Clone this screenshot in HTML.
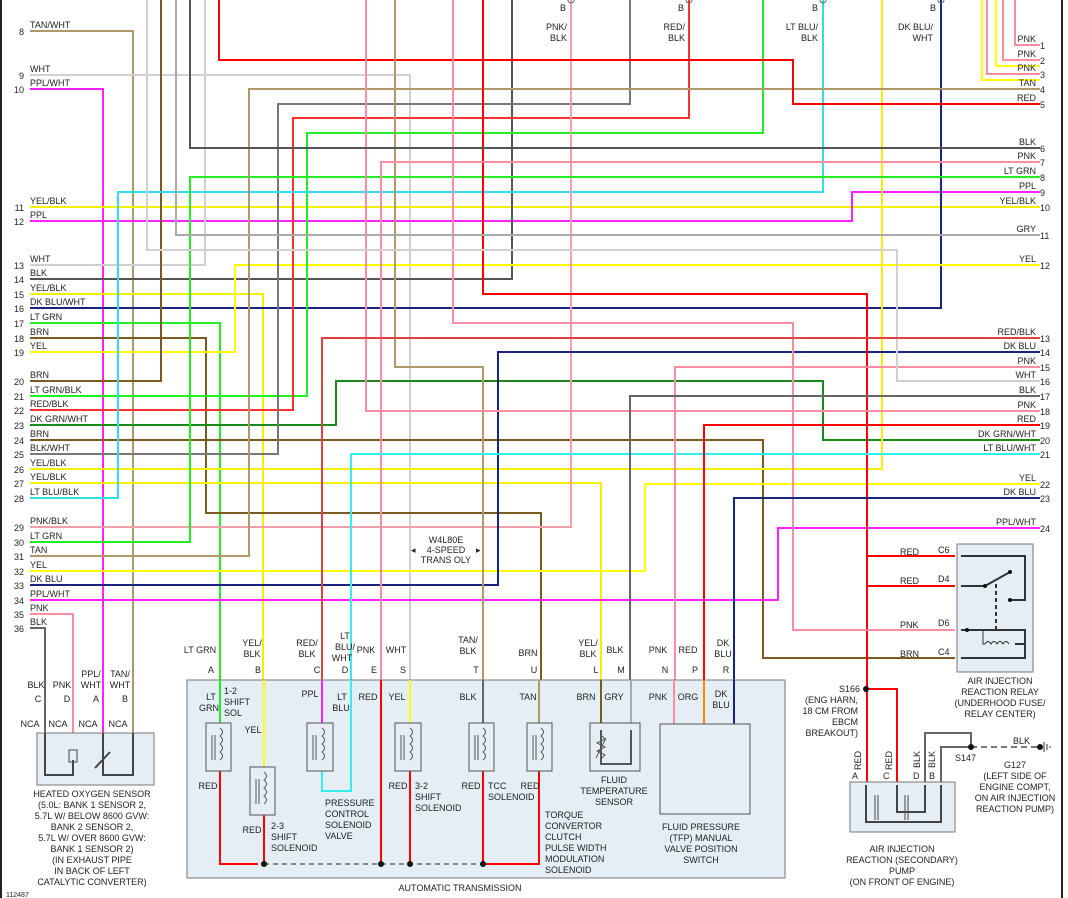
<!DOCTYPE html>
<html><head><meta charset="utf-8"><style>
html,body{margin:0;padding:0;background:#fff;}
svg{display:block;font-family:"Liberation Sans",sans-serif;font-size:9px;}
polyline,line{fill:none;stroke-width:2;}
text{fill:#222;}
</style></head><body>
<svg width="1068" height="898" viewBox="0 0 1068 898" xmlns="http://www.w3.org/2000/svg">
<rect x="0" y="0" width="2" height="898" fill="#222"/>
<rect x="1061" y="0" width="2" height="898" fill="#222"/>

<!-- top right pink bundle with yellow -->
<polyline points="982,0 982,80 1040,80" stroke="#ffff00" stroke-width="6"/>
<polyline points="996,0 996,66 1040,66" stroke="#ffff00" stroke-width="5"/>
<polyline points="987,0 987,74 1040,74" stroke="#ff8da1"/>
<polyline points="1003,0 1003,60 1040,60" stroke="#ff8da1"/>
<polyline points="1015,0 1015,45 1040,45" stroke="#ff8da1"/>

<!-- wires -->
<g>
<polyline points="30,31 133,31 133,733" stroke="#b0986a"/>
<polyline points="30,75 410,75 410,680" stroke="#d0d0d0"/>
<polyline points="30,89 103,89 103,733" stroke="#ff22ff"/>
<polyline points="30,207 1040,207" stroke="#f0f000"/>
<polyline points="30,221 852,221 852,192 1040,192" stroke="#ff22ff"/>
<polyline points="30,265 205,265 205,0" stroke="#d0d0d0"/>
<polyline points="30,279 512,279 512,0" stroke="#555"/>
<polyline points="30,294 263,294 263,680" stroke="#f0f000"/>
<polyline points="30,308 941,308 941,0" stroke="#1a237e"/>
<polyline points="30,323 220,323 220,680" stroke="#22ee22"/>
<polyline points="30,338 206,338 206,513 541,513 541,680" stroke="#7a5a1e"/>
<polyline points="30,352 235,352 235,265 1040,265" stroke="#ffff00"/>
<polyline points="30,381 161,381 161,0" stroke="#7a5a1e"/>
<polyline points="30,396 307,396 307,133 763,133 763,0" stroke="#22ee22"/>
<polyline points="30,410 293,410 293,118 689,118 689,0" stroke="#ff3030"/>
<polyline points="30,425 336,425 336,381 823,381 823,440 1040,440" stroke="#1a8a1a"/>
<polyline points="30,440 763,440 763,658 955,658" stroke="#7a5a1e"/>
<polyline points="30,454 278,454 278,104 630,104 630,0" stroke="#777"/>
<polyline points="30,469 882,469 882,0" stroke="#f0f000"/>
<polyline points="30,483 601,483 601,680" stroke="#f0f000"/>
<polyline points="30,498 118,498 118,192 823,192 823,0" stroke="#33dde8"/>
<polyline points="30,527 571,527 571,0" stroke="#f0a0aa"/>
<polyline points="30,542 190,542 190,177 1040,177" stroke="#22ee22"/>
<polyline points="30,556 249,556 249,89 1040,89" stroke="#b0986a"/>
<polyline points="30,571 645,571 645,484 1040,484" stroke="#ffff00"/>
<polyline points="30,585 498,585 498,352 1040,352" stroke="#1a237e"/>
<polyline points="30,600 778,600 778,528 1040,528" stroke="#ff22ff"/>
<polyline points="30,614 73,614 73,733" stroke="#ff8da1"/>
<polyline points="30,628 45,628 45,733" stroke="#666"/>

<polyline points="219,0 219,60 793,60 793,104 1040,104" stroke="#ff0000"/>
<polyline points="483,0 483,294 867,294 867,782" stroke="#ff0000"/>
<polyline points="867,556 955,556" stroke="#ff0000"/>
<polyline points="867,586 955,586" stroke="#ff0000"/>
<polyline points="867,689 897,689 897,782" stroke="#ff0000"/>
<polyline points="395,0 395,367 483,367 483,680" stroke="#b0986a"/>
<polyline points="366,0 366,411 1040,411" stroke="#ff8da1"/>
<polyline points="381,680 381,162 1040,162" stroke="#ff8da1"/>
<polyline points="453,0 453,323 793,323 793,630 955,630" stroke="#ff8da1"/>
<polyline points="351,680 351,454 1040,454" stroke="#33eeee"/>
<polyline points="675,680 675,367 1040,367" stroke="#ff8da1"/>
<polyline points="630,680 630,396 1040,396" stroke="#666"/>
<polyline points="704,680 704,425 1040,425" stroke="#ff0000"/>
<polyline points="734,680 734,498 1040,498" stroke="#1a237e"/>
<polyline points="147,0 147,250 897,250 897,381 1040,381" stroke="#d0d0d0"/>
<polyline points="176,0 176,235 1040,235" stroke="#aaa"/>
<polyline points="190,0 190,148 1040,148" stroke="#555"/>
<polyline points="322,680 322,338 1040,338" stroke="#e04040"/>
</g>

<!-- top pin circles -->
<g fill="none" stroke="#666" stroke-width="1">
<circle cx="571" cy="0" r="3"/><circle cx="689" cy="0" r="3"/><circle cx="823" cy="0" r="3"/><circle cx="941" cy="0" r="3"/>
</g>
<g text-anchor="end">
<text x="566" y="11">B</text><text x="684" y="11">B</text><text x="818" y="11">B</text><text x="936" y="11">B</text>
<text x="567" y="30">PNK/</text><text x="567" y="41">BLK</text>
<text x="685" y="30">RED/</text><text x="685" y="41">BLK</text>
<text x="818" y="30">LT BLU/</text><text x="818" y="41">BLK</text>
<text x="933" y="30">DK BLU/</text><text x="933" y="41">WHT</text>
</g>

<!-- left labels -->
<g>
<text x="30" y="28">TAN/WHT</text><text x="30" y="72">WHT</text><text x="30" y="86">PPL/WHT</text>
<text x="30" y="204">YEL/BLK</text><text x="30" y="218">PPL</text>
<text x="30" y="262">WHT</text><text x="30" y="276">BLK</text><text x="30" y="291">YEL/BLK</text>
<text x="30" y="305">DK BLU/WHT</text><text x="30" y="320">LT GRN</text><text x="30" y="335">BRN</text>
<text x="30" y="349">YEL</text><text x="30" y="378">BRN</text><text x="30" y="393">LT GRN/BLK</text>
<text x="30" y="407">RED/BLK</text><text x="30" y="422">DK GRN/WHT</text><text x="30" y="437">BRN</text>
<text x="30" y="451">BLK/WHT</text><text x="30" y="466">YEL/BLK</text><text x="30" y="480">YEL/BLK</text>
<text x="30" y="495">LT BLU/BLK</text><text x="30" y="524">PNK/BLK</text><text x="30" y="539">LT GRN</text>
<text x="30" y="553">TAN</text><text x="30" y="568">YEL</text><text x="30" y="582">DK BLU</text>
<text x="30" y="597">PPL/WHT</text><text x="30" y="611">PNK</text><text x="30" y="625">BLK</text>
</g>
<g text-anchor="end">
<text x="24" y="35">8</text><text x="24" y="79">9</text><text x="24" y="93">10</text>
<text x="24" y="211">11</text><text x="24" y="225">12</text><text x="24" y="269">13</text>
<text x="24" y="283">14</text><text x="24" y="298">15</text><text x="24" y="312">16</text>
<text x="24" y="327">17</text><text x="24" y="342">18</text><text x="24" y="356">19</text>
<text x="24" y="385">20</text><text x="24" y="400">21</text><text x="24" y="414">22</text>
<text x="24" y="429">23</text><text x="24" y="444">24</text><text x="24" y="458">25</text>
<text x="24" y="473">26</text><text x="24" y="487">27</text><text x="24" y="502">28</text>
<text x="24" y="531">29</text><text x="24" y="546">30</text><text x="24" y="560">31</text>
<text x="24" y="575">32</text><text x="24" y="589">33</text><text x="24" y="604">34</text>
<text x="24" y="618">35</text><text x="24" y="632">36</text>
</g>

<!-- right labels -->
<g text-anchor="end">
<text x="1036" y="42">PNK</text><text x="1036" y="57">PNK</text><text x="1036" y="71">PNK</text>
<text x="1036" y="86">TAN</text><text x="1036" y="101">RED</text><text x="1036" y="145">BLK</text>
<text x="1036" y="159">PNK</text><text x="1036" y="174">LT GRN</text><text x="1036" y="189">PPL</text>
<text x="1036" y="204">YEL/BLK</text><text x="1036" y="232">GRY</text><text x="1036" y="262">YEL</text>
<text x="1036" y="335">RED/BLK</text><text x="1036" y="349">DK BLU</text><text x="1036" y="364">PNK</text>
<text x="1036" y="378">WHT</text><text x="1036" y="393">BLK</text><text x="1036" y="408">PNK</text>
<text x="1036" y="422">RED</text><text x="1036" y="437">DK GRN/WHT</text><text x="1036" y="451">LT BLU/WHT</text>
<text x="1036" y="481">YEL</text><text x="1036" y="495">DK BLU</text><text x="1036" y="525">PPL/WHT</text>
</g>
<g>
<text x="1040" y="49">1</text><text x="1040" y="64">2</text><text x="1040" y="78">3</text>
<text x="1040" y="93">4</text><text x="1040" y="108">5</text><text x="1040" y="152">6</text>
<text x="1040" y="166">7</text><text x="1040" y="181">8</text><text x="1040" y="196">9</text>
<text x="1040" y="211">10</text><text x="1040" y="239">11</text><text x="1040" y="269">12</text>
<text x="1040" y="342">13</text><text x="1040" y="356">14</text><text x="1040" y="371">15</text>
<text x="1040" y="385">16</text><text x="1040" y="400">17</text><text x="1040" y="415">18</text>
<text x="1040" y="429">19</text><text x="1040" y="444">20</text><text x="1040" y="458">21</text>
<text x="1040" y="488">22</text><text x="1040" y="502">23</text><text x="1040" y="532">24</text>
</g>

<!-- W4L80E note -->
<g text-anchor="middle"><text x="446" y="543">W4L80E</text><text x="446" y="553">4-SPEED</text><text x="446" y="563">TRANS OLY</text></g>
<text x="411" y="553">◂</text><text x="476" y="553">▸</text>

<!-- heated oxygen sensor -->
<rect x="37" y="733" width="117" height="52" fill="#e4eef4" stroke="#777"/>
<g stroke="#444" stroke-width="1" fill="none">
<polyline points="45,733 45,775 73,775 73,760"/><polyline points="103,733 103,775 133,775 133,733"/>
<rect x="69" y="750" width="8" height="12"/><line x1="95" y1="768" x2="110" y2="752"/>
</g>
<g text-anchor="middle">
<text x="36" y="688">BLK</text><text x="62" y="688">PNK</text><text x="91" y="677">PPL/</text><text x="91" y="688">WHT</text>
<text x="120" y="677">TAN/</text><text x="120" y="688">WHT</text>
<text x="38" y="702">C</text><text x="67" y="702">D</text><text x="96" y="702">A</text><text x="125" y="702">B</text>
<text x="30" y="727">NCA</text><text x="58" y="727">NCA</text><text x="88" y="727">NCA</text><text x="118" y="727">NCA</text>
<text x="92" y="797">HEATED OXYGEN SENSOR</text><text x="92" y="808">(5.0L: BANK 1 SENSOR 2,</text>
<text x="92" y="819">5.7L W/ BELOW 8600 GVW:</text><text x="92" y="830">BANK 2 SENSOR 2,</text>
<text x="92" y="841">5.7L W/ OVER 8600 GVW:</text><text x="92" y="852">BANK 1 SENSOR 2)</text>
<text x="92" y="863">(IN EXHAUST PIPE</text><text x="92" y="874">IN BACK OF LEFT</text><text x="92" y="885">CATALYTIC CONVERTER)</text>
</g>
<text x="6" y="897" font-size="7">112487</text>

<!-- transmission box -->
<rect x="187" y="680" width="598" height="198" fill="#e4eef4" stroke="#777"/>
<g>
<polyline points="220,680 220,723" stroke="#22ee22"/>
<polyline points="264,680 264,767" stroke="#ffff00"/>
<polyline points="322,680 322,723" stroke="#ff22ff"/>
<polyline points="351,680 351,791 322,791 322,771" stroke="#33eeee"/>
<polyline points="410,680 410,723" stroke="#ffff00"/>
<polyline points="483,680 483,723" stroke="#666"/>
<polyline points="539,680 539,723" stroke="#b0986a"/>
<polyline points="601,680 601,723" stroke="#7a5a1e"/>
<polyline points="631,680 631,723" stroke="#aaa"/>
<polyline points="674,680 674,724" stroke="#ff8da1"/>
<polyline points="704,680 704,724" stroke="#ff8800"/>
<polyline points="734,680 734,724" stroke="#1a237e"/>
<polyline points="381,680 381,864" stroke="#ff0000"/>
<polyline points="220,771 220,864 258,864" stroke="#ff0000"/>
<polyline points="264,815 264,864" stroke="#ff0000"/>
<polyline points="410,771 410,864" stroke="#ff0000"/>
<polyline points="483,771 483,864 539,864 539,771" stroke="#ff0000"/>
<line x1="264" y1="864" x2="483" y2="864" stroke="#888" stroke-width="1" stroke-dasharray="5,4"/>
</g>
<g fill="#111"><circle cx="264" cy="864" r="3"/><circle cx="381" cy="864" r="3"/><circle cx="410" cy="864" r="3"/><circle cx="483" cy="864" r="3"/></g>
<g fill="none" stroke="#555" stroke-width="1">
<rect x="206" y="723" width="25" height="48"/><rect x="250" y="767" width="25" height="48"/>
<rect x="307" y="723" width="26" height="48"/><rect x="395" y="723" width="26" height="48"/>
<rect x="469" y="723" width="25" height="48"/><rect x="527" y="723" width="25" height="48"/>
<rect x="590" y="723" width="50" height="48"/><rect x="660" y="724" width="90" height="90"/>
<polyline points="601,730 601,764 631,764 631,730"/>
<path d="M220,728 q5,4 0,8 q5,4 0,8 q5,4 0,8 q5,4 0,8 M264,772 q5,4 0,8 q5,4 0,8 q5,4 0,8 q5,4 0,8 M322,728 q5,4 0,8 q5,4 0,8 q5,4 0,8 q5,4 0,8 M410,728 q5,4 0,8 q5,4 0,8 q5,4 0,8 q5,4 0,8 M483,728 q5,4 0,8 q5,4 0,8 q5,4 0,8 q5,4 0,8 M541,728 q5,4 0,8 q5,4 0,8 q5,4 0,8 q5,4 0,8"/>
<path d="M212,735 v25 M215,735 v25 M256,779 v25 M259,779 v25 M313,735 v25 M316,735 v25 M401,735 v25 M404,735 v25 M475,735 v25 M478,735 v25 M533,735 v25 M536,735 v25"/>
<path d="M601,735 l4,4 -8,4 8,4 -8,4 8,4 -4,4 M596,758 l10,-20"/>
</g>
<g text-anchor="middle">
<text x="200" y="653">LT GRN</text><text x="252" y="646">YEL/</text><text x="252" y="657">BLK</text>
<text x="307" y="646">RED/</text><text x="307" y="657">BLK</text>
<text x="345" y="639">LT</text><text x="345" y="650">BLU/</text><text x="342" y="661">WHT</text>
<text x="366" y="653">PNK</text><text x="396" y="653">WHT</text>
<text x="468" y="643">TAN/</text><text x="468" y="654">BLK</text><text x="528" y="656">BRN</text>
<text x="588" y="646">YEL/</text><text x="588" y="657">BLK</text><text x="615" y="653">BLK</text>
<text x="658" y="653">PNK</text><text x="688" y="653">RED</text>
<text x="723" y="646">DK</text><text x="723" y="657">BLU</text>
<text x="211" y="673">A</text><text x="258" y="673">B</text><text x="317" y="673">C</text><text x="345" y="673">D</text>
<text x="374" y="673">E</text><text x="403" y="673">S</text><text x="476" y="673">T</text><text x="534" y="673">U</text>
<text x="596" y="673">L</text><text x="621" y="673">M</text><text x="665" y="673">N</text><text x="695" y="673">P</text><text x="726" y="673">R</text>
<text x="211" y="700">LT</text><text x="209" y="711">GRN</text><text x="253" y="733">YEL</text>
<text x="310" y="697">PPL</text><text x="342" y="700">LT</text><text x="341" y="711">BLU</text>
<text x="368" y="700">RED</text><text x="397" y="700">YEL</text><text x="468" y="700">BLK</text><text x="528" y="700">TAN</text>
<text x="586" y="700">BRN</text><text x="614" y="700">GRY</text><text x="658" y="700">PNK</text><text x="688" y="700">ORG</text>
<text x="721" y="697">DK</text><text x="721" y="708">BLU</text>
<text x="208" y="789">RED</text><text x="252" y="833">RED</text><text x="398" y="789">RED</text>
<text x="471" y="789">RED</text><text x="530" y="789">RED</text>
<text x="614" y="783">FLUID</text><text x="614" y="794">TEMPERATURE</text><text x="614" y="805">SENSOR</text>
<text x="701" y="830">FLUID PRESSURE</text><text x="701" y="841">(TFP) MANUAL</text><text x="701" y="852">VALVE POSITION</text><text x="701" y="863">SWITCH</text>
<text x="460" y="891">AUTOMATIC TRANSMISSION</text>
</g>
<g>
<text x="224" y="694">1-2</text><text x="224" y="705">SHIFT</text><text x="224" y="716">SOL</text>
<text x="271" y="829">2-3</text><text x="271" y="840">SHIFT</text><text x="271" y="851">SOLENOID</text>
<text x="325" y="806">PRESSURE</text><text x="325" y="817">CONTROL</text><text x="325" y="828">SOLENOID</text><text x="325" y="839">VALVE</text>
<text x="415" y="789">3-2</text><text x="415" y="800">SHIFT</text><text x="415" y="811">SOLENOID</text>
<text x="488" y="789">TCC</text><text x="488" y="800">SOLENOID</text>
<text x="545" y="818">TORQUE</text><text x="545" y="829">CONVERTOR</text><text x="545" y="840">CLUTCH</text>
<text x="545" y="851">PULSE WIDTH</text><text x="545" y="862">MODULATION</text><text x="545" y="873">SOLENOID</text>
</g>

<!-- relay -->
<rect x="957" y="544" width="76" height="128" fill="#e4eef4" stroke="#777"/>
<g fill="none" stroke="#333" stroke-width="1">
<polyline points="961,556 1025,556 1025,600 1010,600"/><polyline points="961,586 985,586 1010,572"/>
<polyline points="961,630 1025,630 1025,644 1015,644"/><path d="M985,644 q3,-5 6,0 q3,-5 6,0 q3,-5 6,0 q3,-5 6,0 M985,644 h-2 v-14"/>
<line x1="996" y1="584" x2="996" y2="630" stroke-dasharray="4,3"/><polyline points="961,658 1025,658 1025,644"/>
</g>
<g fill="#111"><circle cx="985" cy="586" r="2"/><circle cx="1010" cy="572" r="2"/><circle cx="1010" cy="600" r="2"/><circle cx="967" cy="630" r="2"/></g>
<text x="900" y="555">RED</text><text x="900" y="584">RED</text><text x="900" y="628">PNK</text><text x="900" y="657">BRN</text>
<text x="938" y="553">C6</text><text x="938" y="582">D4</text><text x="938" y="626">D6</text><text x="938" y="655">C4</text>
<g text-anchor="middle"><text x="1000" y="684">AIR INJECTION</text><text x="1000" y="695">REACTION RELAY</text>
<text x="1000" y="706">(UNDERHOOD FUSE/</text><text x="1000" y="717">RELAY CENTER)</text></g>

<!-- S166 / pump -->
<circle cx="866" cy="689" r="3" fill="#111"/>
<g text-anchor="end"><text x="860" y="692">S166</text><text x="858" y="703">(ENG HARN,</text>
<text x="858" y="714">18 CM FROM</text><text x="858" y="725">EBCM</text><text x="858" y="736">BREAKOUT)</text></g>
<rect x="850" y="782" width="105" height="50" fill="#e4eef4" stroke="#777"/>
<g fill="none" stroke="#444" stroke-width="1">
<polyline points="866,785 866,822 941,822 941,785"/><polyline points="897,785 897,812 925,812 925,785"/>
<path d="M875,795 v25 M878,795 v25 M905,795 v25 M908,795 v25"/>
</g>
<polyline points="925,782 925,733 971,733 971,747" stroke="#666" stroke-width="2" fill="none"/>
<polyline points="941,782 941,747 971,747" stroke="#666" stroke-width="2" fill="none"/>
<line x1="971" y1="747" x2="1040" y2="747" stroke="#777" stroke-width="2" stroke-dasharray="6,4"/>
<circle cx="971" cy="747" r="3" fill="#111"/><circle cx="1040" cy="747" r="3" fill="#111"/>
<path d="M1044,742 v10 M1047,744 v6 M1050,746 v2" stroke="#333" stroke-width="1"/>
<text x="1013" y="744">BLK</text><text x="955" y="761">S147</text>
<g transform="translate(861,770) rotate(-90)"><text>RED</text></g>
<g transform="translate(892,770) rotate(-90)"><text>RED</text></g>
<g transform="translate(920,768) rotate(-90)"><text>BLK</text></g>
<g transform="translate(935,768) rotate(-90)"><text>BLK</text></g>
<text x="852" y="779">A</text><text x="883" y="779">C</text><text x="913" y="779">D</text><text x="929" y="779">B</text>
<g text-anchor="middle"><text x="1015" y="768">G127</text><text x="1015" y="779">(LEFT SIDE OF</text>
<text x="1015" y="790">ENGINE COMPT,</text><text x="1015" y="801">ON AIR INJECTION</text><text x="1015" y="812">REACTION PUMP)</text>
<text x="902" y="852">AIR INJECTION</text><text x="902" y="863">REACTION (SECONDARY)</text>
<text x="902" y="874">PUMP</text><text x="902" y="885">(ON FRONT OF ENGINE)</text></g>
</svg>
</body></html>
